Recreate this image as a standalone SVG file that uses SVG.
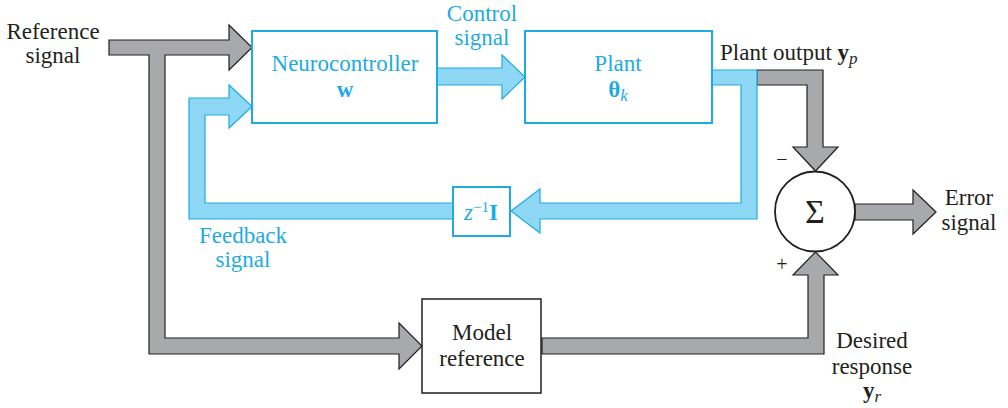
<svg xmlns="http://www.w3.org/2000/svg" width="1008" height="408" viewBox="0 0 1008 408">
<style>
.t{font-family:"Liberation Serif","Times New Roman",serif;font-size:23px;fill:#231F20}
.b{fill:#1EABE3}
.box{fill:#fff;stroke:#1EABE3;stroke-width:2}
.kbox{fill:#fff;stroke:#231F20;stroke-width:1.5}
.ga{fill:#A7A9AC;stroke:#231F20;stroke-width:1.2;stroke-linejoin:miter}
.ba{fill:#8ED8F5;stroke:#1EABE3;stroke-width:1.2;stroke-linejoin:miter}
</style>
<rect width="1008" height="408" fill="#fff"/>
<g id="connectors">
<polygon class="ga" points="109,40 229,40 229,25 252,47.5 229,70 229,55 165,55 165,338 399,338 399,323 422,346 399,369 399,354 149,354 149,55 109,55"/>
<polygon class="ga" points="542,338 808,338 808,275 793,275 815.5,252 838,275 824,275 824,354 542,354"/>
<polygon class="ga" points="757,70 823,70 823,147 838,147 815.5,171 793,147 807,147 807,85 757,85"/>
<polygon class="ga" points="855,204 913,204 913,190 936,212 913,234 913,220 855,220"/>
<polygon class="ba" points="437,68 502,68 502,55 525,77 502,99 502,85 437,85"/>
<polygon class="ba" points="712,70 757,70 757,219 540,219 540,233 511,211 540,189 540,203 741,203 741,85 712,85"/>
<polygon class="ba" points="453,203 205,203 205,115 229,115 229,128 252,106.5 229,85 229,98 189,98 189,219 453,219"/>
</g>
<g id="neurocontroller">
<rect class="box" x="252" y="31" width="185" height="92"/>
<text class="t b" x="345" y="71" text-anchor="middle">Neurocontroller</text>
<text class="t b" x="345" y="97" text-anchor="middle" font-weight="bold">w</text>
</g>
<g id="plant">
<rect class="box" x="525" y="31" width="187" height="92"/>
<text class="t b" x="618" y="71" text-anchor="middle">Plant</text>
<text class="t b" x="618" y="97" text-anchor="middle"><tspan font-weight="bold">θ</tspan><tspan font-style="italic" font-size="17" dy="4">k</tspan></text>
</g>
<g id="delay">
<rect class="box" x="453" y="187" width="57" height="49"/>
<text class="t b" x="481" y="220" text-anchor="middle"><tspan font-style="italic">z</tspan><tspan font-size="15" dy="-8">−1</tspan><tspan font-weight="bold" dy="8">I</tspan></text>
</g>
<g id="sum">
<circle cx="815" cy="211.5" r="40" fill="#fff" stroke="#231F20" stroke-width="1.8"/>
<text class="t" x="815" y="223" text-anchor="middle" style="font-size:34px">Σ</text>
<text class="t" x="782" y="166" text-anchor="middle" style="font-size:20px">−</text>
<text class="t" x="782" y="271" text-anchor="middle" style="font-size:20px">+</text>
</g>
<g id="model">
<rect class="kbox" x="422" y="299" width="119" height="94"/>
<text class="t" x="482" y="340" text-anchor="middle">Model</text>
<text class="t" x="482" y="366" text-anchor="middle">reference</text>
</g>
<g id="labels">
<text class="t" x="53" y="39" text-anchor="middle">Reference</text>
<text class="t" x="53" y="63" text-anchor="middle">signal</text>
<text class="t b" x="482" y="21" text-anchor="middle">Control</text>
<text class="t b" x="482" y="45" text-anchor="middle">signal</text>
<text class="t" x="720" y="60">Plant output <tspan font-weight="bold">y</tspan><tspan font-style="italic" font-size="17" dy="4">p</tspan></text>
<text class="t b" x="243" y="243" text-anchor="middle">Feedback</text>
<text class="t b" x="243" y="267" text-anchor="middle">signal</text>
<text class="t" x="969" y="205" text-anchor="middle">Error</text>
<text class="t" x="969" y="230" text-anchor="middle">signal</text>
<text class="t" x="872" y="348" text-anchor="middle">Desired</text>
<text class="t" x="872" y="374" text-anchor="middle">response</text>
<text class="t" x="872" y="398" text-anchor="middle"><tspan font-weight="bold">y</tspan><tspan font-style="italic" font-size="17" dy="4">r</tspan></text>
</g>
</svg>
